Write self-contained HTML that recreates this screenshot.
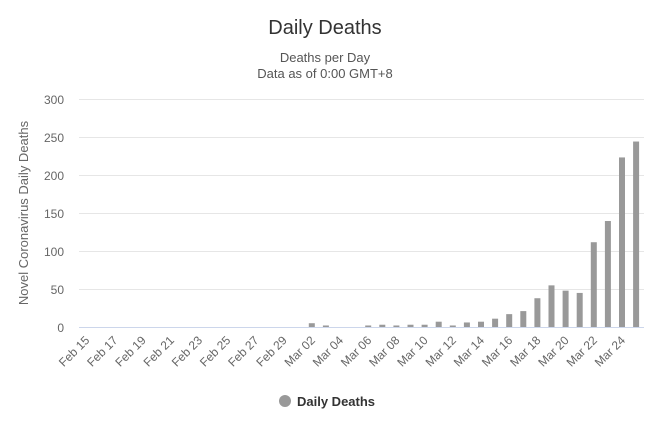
<!DOCTYPE html>
<html><head><meta charset="utf-8"><style>
body{margin:0;background:#fff;}
text{font-family:"Liberation Sans","DejaVu Sans",sans-serif;}
</style></head><body>
<svg width="650" height="429" xmlns="http://www.w3.org/2000/svg">
<text x="325" y="34" text-anchor="middle" font-size="20" fill="#333">Daily Deaths</text>
<text x="325" y="62" text-anchor="middle" font-size="13" fill="#555">Deaths per Day</text>
<text x="325" y="78" text-anchor="middle" font-size="13" fill="#555">Data as of 0:00 GMT+8</text>
<g stroke="#e6e6e6" stroke-width="1">
<line x1="79" x2="644" y1="99.5" y2="99.5"/>
<line x1="79" x2="644" y1="137.5" y2="137.5"/>
<line x1="79" x2="644" y1="175.5" y2="175.5"/>
<line x1="79" x2="644" y1="213.5" y2="213.5"/>
<line x1="79" x2="644" y1="251.5" y2="251.5"/>
<line x1="79" x2="644" y1="289.5" y2="289.5"/>
</g>
<line x1="79" x2="644" y1="327.5" y2="327.5" stroke="#ccd6eb"/>
<g font-size="12" fill="#666" text-anchor="end">
<text x="64" y="104">300</text><text x="64" y="142">250</text><text x="64" y="180">200</text>
<text x="64" y="218">150</text><text x="64" y="256">100</text><text x="64" y="294">50</text><text x="64" y="332">0</text>
</g>
<text transform="translate(28,213) rotate(-90)" text-anchor="middle" font-size="13" fill="#666">Novel Coronavirus Daily Deaths</text>
<g fill="#999" id="bars"></g>
<g id="labels" font-size="12" fill="#666" text-anchor="end"></g>
<circle cx="285" cy="401" r="6" fill="#999"/>
<text x="297" y="406" font-size="13" font-weight="bold" fill="#333">Daily Deaths</text>
<script>
var v=[0,0,0,0,0,0,0,0,0,0,0,0,0,0,0,0,5,2,0,0,2,3,2,3,3,7,2,6,7,11,17,21,38,55,48,45,112,140,224,245];
var b=document.getElementById('bars'),L=document.getElementById('labels'),ns="http://www.w3.org/2000/svg";
for(var i=0;i<40;i++){var cx=86.2+i*14.1;var h=v[i]*0.757;
if(h>0){var r=document.createElementNS(ns,'rect');r.setAttribute('x',cx-3);r.setAttribute('y',327-h);r.setAttribute('width',6);r.setAttribute('height',h);b.appendChild(r);}
if(i%2==0){var d=i<15?'Feb '+(15+i):'Mar '+('0'+(i-14)).slice(-2);
var t=document.createElementNS(ns,'text');t.setAttribute('transform','translate('+(cx+4)+',341) rotate(-45)');t.textContent=d;L.appendChild(t);}}
</script>
</svg>
</body></html>
